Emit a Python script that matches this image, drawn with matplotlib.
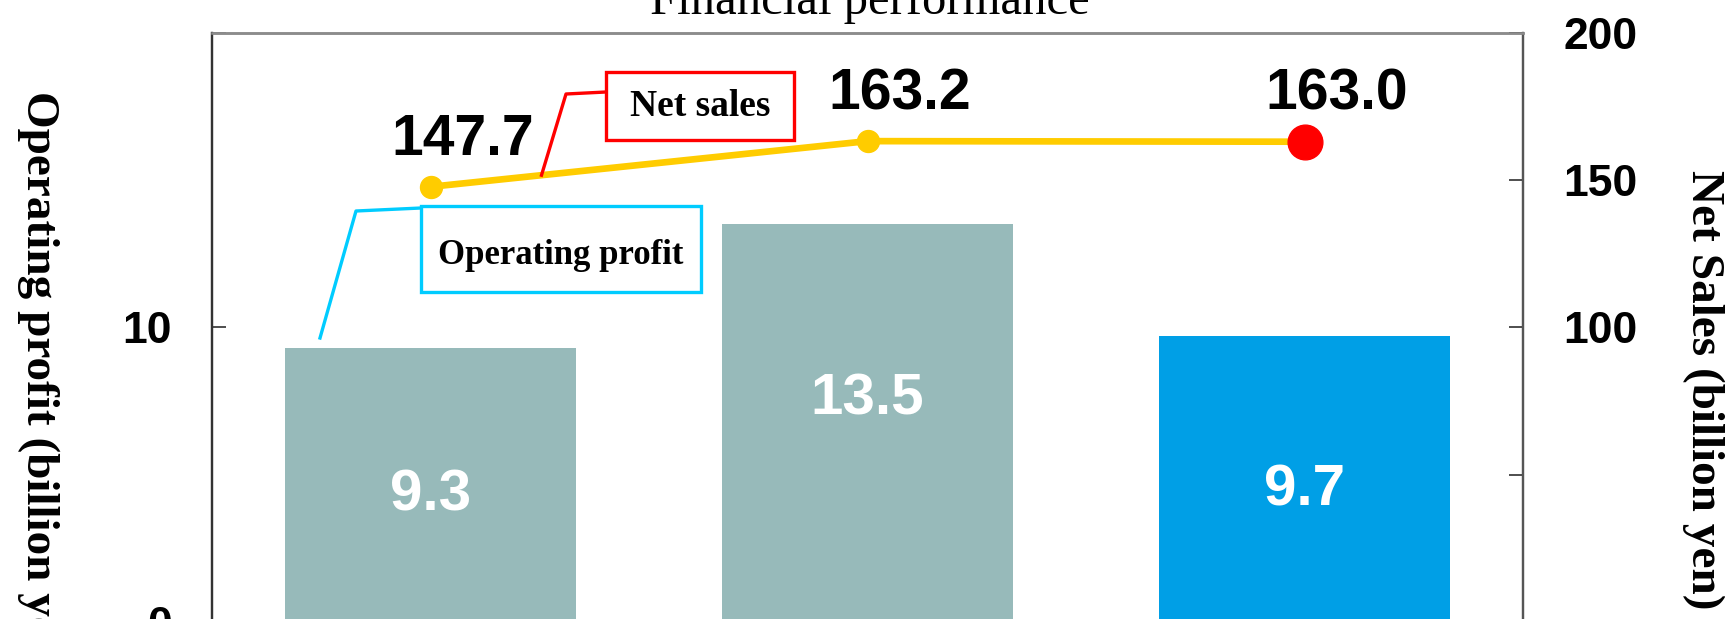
import numpy as np
import matplotlib
matplotlib.use("Agg")
import matplotlib.pyplot as plt
from matplotlib.patches import Rectangle
from matplotlib.lines import Line2D

# ---------------- data ----------------
categories = ["FY1", "FY2", "FY3"]
operating_profit = [9.3, 13.5, 9.7]          # billion yen (left axis)
net_sales = [147.7, 163.2, 163.0]            # billion yen (right axis)
bar_colors = ["#97BABA", "#97BABA", "#009FE6"]
left_ticks = [0, 10, 20]
left_tick_labels = ["0", "10", ""]
right_ticks = [0, 50, 100, 150, 200]
right_tick_labels = ["", "", "100", "150", "200"]
title = "Financial performance"
left_label = "Operating profit (billion yen)"
right_label = "Net Sales (billion yen)"

# ---------------- layout ----------------
W, H = 1725, 619
SANS = "Liberation Sans"
SERIF = "Liberation Serif"

def F(xp, yp):
    """pixel (top-left origin) -> figure fraction"""
    return xp / W, 1 - yp / H

fig = plt.figure(figsize=(W / 100, H / 100), dpi=100)
ax = fig.add_axes([212 / W, (H - 622) / H, 1311 / W, 589.3 / H])
ax2 = ax.twinx()

x = np.arange(len(categories))
ax.set_xlim(-0.5, 2.5)
ax.set_ylim(0, 20)
ax2.set_ylim(0, 200)

ax.bar(x, operating_profit, width=0.667, color=bar_colors, zorder=2)

# bar value labels
bar_label_y = [4.3, 7.55, 4.45]
for xi, v, ly in zip(x, operating_profit, bar_label_y):
    ax.text(xi, ly, f"{v:.1f}", ha="center", va="center", color="white",
            fontsize=42, fontweight="bold", family=SANS, zorder=3)

# net sales line
ax2.plot(x, net_sales, color="#FFCC00", lw=4.8, zorder=4, solid_capstyle="round")
ax2.plot(x[:-1], net_sales[:-1], "o", color="#FFCC00", ms=15.8, zorder=5)
ax2.plot(x[-1:], net_sales[-1:], "o", color="#FF0000", ms=25, zorder=5)
for xi, v in zip(x, net_sales):
    ax2.annotate(f"{v:.1f}", (xi, v), xytext=(23, 23), textcoords="offset points",
                 ha="center", va="baseline", fontsize=41, fontweight="bold",
                 family=SANS, color="black", zorder=6)

# axes styling
ax.set_xticks([])
ax.set_yticks(left_ticks)
ax.set_yticklabels(left_tick_labels)
ax2.set_yticks(right_ticks)
ax2.set_yticklabels(right_tick_labels)
for a in (ax, ax2):
    a.tick_params(axis="y", direction="in", length=10, width=1.3, pad=29,
                  labelsize=32, colors="#404040", labelcolor="black")
    for lab in a.get_yticklabels():
        lab.set_fontweight("bold")
        lab.set_family(SANS)
    a.spines["bottom"].set_visible(False)
for a in (ax, ax2):
    a.spines["top"].set_color("#8C8C8C")
    a.spines["top"].set_linewidth(1.8)
    a.spines["left"].set_color("#333333")
    a.spines["left"].set_linewidth(1.6)
    a.spines["right"].set_color("#555555")
    a.spines["right"].set_linewidth(1.6)
ax2.patch.set_visible(False)

# title and axis labels
tx, ty = F(870, 14)
fig.text(tx, ty, title, ha="center", va="baseline", fontsize=35, family=SERIF)
lx, ly = F(38, 91)
fig.text(lx, ly, left_label, rotation=270, ha="center", va="top",
         fontsize=34, fontweight="bold", family=SERIF)
rx, ry = F(1703, 170)
fig.text(rx, ry, right_label, rotation=270, ha="center", va="top",
         fontsize=34, fontweight="bold", family=SERIF)

# callout boxes
def box(x0, y0, x1, y1, color, text, size, dy=0):
    bx, by = F(x0, y1)
    fig.add_artist(Rectangle((bx, by), (x1 - x0) / W, (y1 - y0) / H,
                             transform=fig.transFigure, fill=True, facecolor="white",
                             edgecolor=color, lw=2.4, zorder=7))
    cx, cy = F((x0 + x1) / 2, (y0 + y1) / 2 + dy)
    fig.text(cx, cy, text, ha="center", va="center", fontsize=size,
             fontweight="bold", family=SERIF, zorder=8)

def connector(points_px, color):
    xs = [p[0] / W for p in points_px]
    ys = [1 - p[1] / H for p in points_px]
    fig.add_artist(Line2D(xs, ys, transform=fig.transFigure, color=color,
                          lw=2.4, zorder=7))

# anchor of net sales callout on the line
fig.canvas.draw()
ax_x = 0.254
ax_y = np.interp(ax_x, x, net_sales)
disp = ax2.transData.transform((ax_x, ax_y))
anchor_px = (disp[0], H - disp[1])
connector([anchor_px, (566, 94), (606, 92)], "#FF0000")
box(606, 72, 794, 140, "#FF0000", "Net sales", 27)

connector([(320, 338), (356, 211), (421, 208)], "#00CCFF")
box(421, 206, 701, 292, "#00CCFF", "Operating profit", 25, dy=6)

fig.savefig("out.png", dpi=100)
